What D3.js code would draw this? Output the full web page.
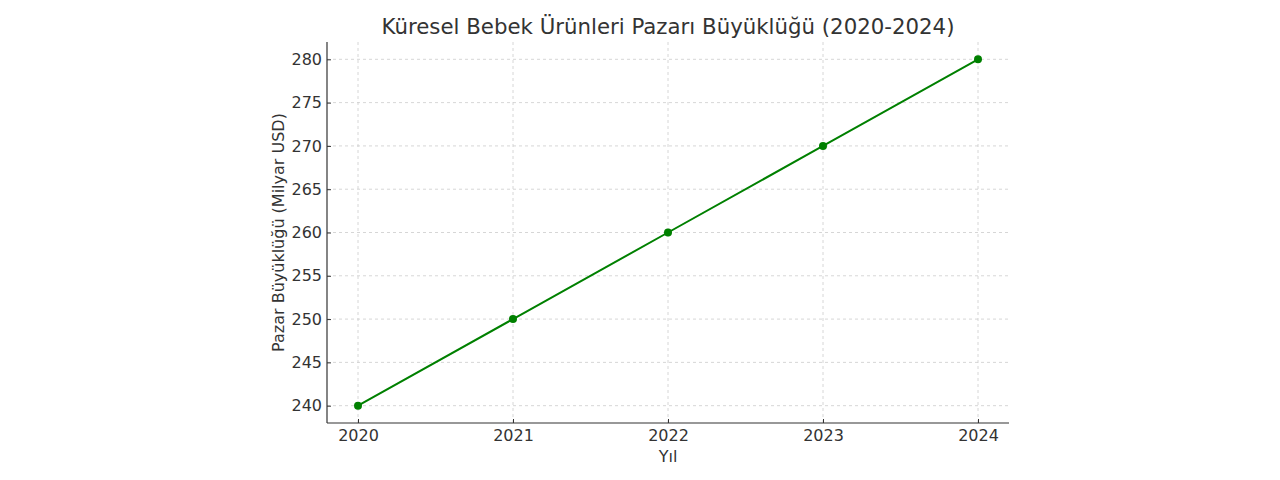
<!DOCTYPE html>
<html>
<head>
<meta charset="utf-8">
<script src="https://cdn.jsdelivr.net/npm/d3@7"></script>
<style>
  body { margin: 0; background: #fff; }
  text { font-family: "DejaVu Sans", sans-serif; fill: #333; }
</style>
</head>
<body>
<svg id="chart"></svg>
<script>
const years = [2020, 2021, 2022, 2023, 2024];
const marketSize = [240, 250, 260, 270, 280];
const yTicks = [240, 245, 250, 255, 260, 265, 270, 275, 280];
const title = "Küresel Bebek Ürünleri Pazarı Büyüklüğü (2020-2024)";
const xLabel = "Yıl";
const yLabel = "Pazar Büyüklüğü (Milyar USD)";

const width = 1280, height = 480;
const margin = { top: 42, right: 271, bottom: 57, left: 327 };
const innerW = width - margin.left - margin.right;
const innerH = height - margin.top - margin.bottom;

const svg = d3.select("#chart").attr("width", width).attr("height", height);
const g = svg.append("g").attr("transform", `translate(${margin.left},${margin.top})`);

// matplotlib-style 5% margins
const x = d3.scaleLinear().domain([2019.8, 2024.2]).range([0, innerW]);
const y = d3.scaleLinear().domain([238, 282]).range([innerH, 0]);

// grid
g.append("g").selectAll("line").data(years).join("line")
    .attr("x1", d => x(d)).attr("x2", d => x(d))
    .attr("y1", 0).attr("y2", innerH)
    .attr("stroke", "#ccc").attr("stroke-width", 0.8).attr("stroke-dasharray", "3,3");
g.append("g").selectAll("line").data(yTicks).join("line")
    .attr("x1", 0).attr("x2", innerW)
    .attr("y1", d => y(d)).attr("y2", d => y(d))
    .attr("stroke", "#ccc").attr("stroke-width", 0.8).attr("stroke-dasharray", "3,3");

// axes, ticks pointing inward
const xAxis = g.append("g").attr("transform", `translate(0,${innerH})`)
    .call(d3.axisBottom(x).tickValues(years).tickFormat(d3.format("d")).tickSizeInner(-4).tickSizeOuter(0).tickPadding(7));
const yAxis = g.append("g")
    .call(d3.axisLeft(y).tickValues(yTicks).tickSizeInner(-4).tickSizeOuter(0).tickPadding(5));

[xAxis, yAxis].forEach(a => {
    a.select(".domain").attr("stroke", "#333").attr("stroke-width", 1.2);
    a.selectAll(".tick line").attr("stroke", "#333");
    a.selectAll(".tick text").attr("font-size", 16).attr("fill", "#222")
        .style("font-family", "'DejaVu Sans', sans-serif");
});
yAxis.select(".domain").attr("d", `M0,0V${innerH}`);
xAxis.select(".domain").attr("d", `M0,0H${innerW}`);

// line + points
const line = d3.line().x((d, i) => x(years[i])).y(d => y(d));
g.append("path").datum(marketSize)
    .attr("d", line).attr("fill", "none")
    .attr("stroke", "#008000").attr("stroke-width", 2);
g.selectAll("circle.pt").data(marketSize).join("circle")
    .attr("class", "pt")
    .attr("cx", (d, i) => x(years[i])).attr("cy", d => y(d))
    .attr("r", 4).attr("fill", "#008000");

// labels
svg.append("text").attr("x", margin.left + innerW / 2).attr("y", 34)
    .attr("text-anchor", "middle").attr("font-size", 21.3).text(title);
svg.append("text").attr("x", margin.left + innerW / 2).attr("y", 462)
    .attr("text-anchor", "middle").attr("font-size", 16).text(xLabel);
svg.append("text")
    .attr("transform", `translate(284,${margin.top + innerH / 2}) rotate(-90)`)
    .attr("text-anchor", "middle").attr("font-size", 16).text(yLabel);
</script>
</body>
</html>
